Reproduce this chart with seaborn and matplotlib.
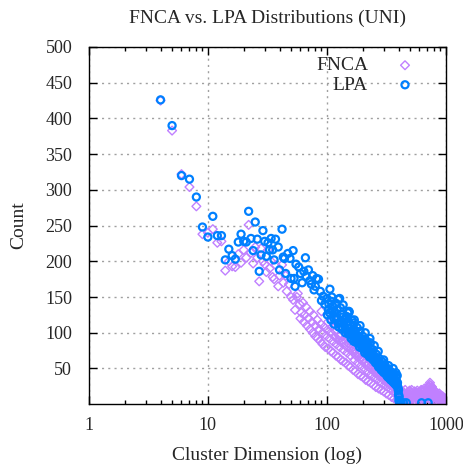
import seaborn as sns
import numpy as np
import pandas as pd
import matplotlib.pyplot as plt
from matplotlib.ticker import FixedLocator, LogLocator, NullFormatter

# FNCA values (cluster dimension, count)
fnca_x = [4, 5, 6, 7, 8, 9, 10, 11, 12, 13, 14, 15, 16, 17, 18, 19, 20, 21, 22, 23,
          24, 25, 26, 27, 28, 29, 30, 31, 32, 33, 34, 35, 36, 37, 39, 40, 42, 43, 45, 46,
          48, 50, 52, 54, 56, 57, 59, 61, 63, 65, 67, 70, 72, 75, 77, 80, 83, 86, 89, 92,
          95, 98, 101, 105, 108, 112, 116, 120, 124, 128, 133, 138, 143, 148, 153, 158, 164, 170, 176, 182,
          188, 194, 200, 207, 214, 221, 228, 236, 244, 252, 260, 268, 277, 286, 295, 305, 315, 325, 335, 346,
          357, 368, 380, 392, 404, 416, 428, 440, 452, 465, 478, 492, 505, 520, 535, 550, 565, 580, 600, 620,
          640, 660, 680, 700, 720, 730, 740, 760, 780, 800, 830, 860, 890, 920, 950, 980, 1000,
          102, 110, 118, 126, 135, 145, 155, 165, 175, 185, 195, 205, 215, 225, 240, 255, 270, 285, 300, 320,
          340, 360, 380, 400, 420, 130, 150, 172, 192, 212, 232, 262, 292, 330, 372, 410, 445, 500, 560, 640,
          710, 760, 850, 940,
          60, 64, 68, 72, 76, 80, 84, 88, 92, 97, 103, 108, 113, 119, 125, 131, 137, 144, 151, 158,
          166, 174, 183, 192, 202, 212, 223, 234, 246, 258, 272, 286, 300, 316, 332, 350, 368, 386, 405, 420,
          90, 100, 110, 120, 140, 160, 180, 210, 250, 290, 330, 370,
          430, 460, 490, 510, 540, 570, 610, 650, 690, 730, 750, 770, 790, 820, 870, 900, 930, 960, 990, 450,
          530, 700, 840, 970, 620, 660, 700,
          415, 425, 435, 445, 455, 470, 480, 485, 495, 500, 515, 525, 545, 555, 575, 585, 595, 605, 615, 630,
          645, 655, 670, 675, 685, 695, 710, 715, 725, 735, 745, 755, 765, 775, 785, 795, 810, 825, 835, 850,
          865, 880, 895, 910, 925, 940, 955, 965, 975, 985, 995, 1000]
fnca_y = [425, 383, 322, 304, 277, 238, 240, 245, 226, 228, 187, 200, 193, 192, 210, 198, 216, 205, 251, 212,
          197, 220, 205, 172, 218, 200, 196, 185, 216, 190, 200, 178, 175, 195, 165, 180, 195, 170, 180, 158,
          168, 150, 146, 132, 150, 155, 140, 128, 142, 125, 136, 120, 130, 115, 125, 110, 118, 105, 112, 100,
          108, 96, 104, 92, 100, 88, 95, 84, 90, 80, 86, 76, 82, 72, 78, 68, 74, 62, 68, 58,
          64, 54, 60, 50, 55, 46, 51, 42, 47, 38, 43, 35, 39, 31, 35, 27, 31, 24, 28, 20,
          24, 16, 20, 12, 15, 8, 12, 6, 10, 4, 8, 12, 6, 10, 14, 5, 9, 13, 6, 10,
          14, 8, 12, 16, 20, 27, 20, 12, 8, 10, 5, 8, 4, 6, 3, 2, 4,
          115, 108, 102, 96, 90, 88, 84, 80, 75, 70, 66, 62, 60, 56, 52, 48, 44, 40, 38, 34,
          30, 27, 24, 22, 18, 96, 92, 70, 70, 58, 60, 48, 44, 36, 26, 20, 14, 18, 16, 18,
          14, 24, 10, 8,
          120, 115, 110, 105, 100, 95, 92, 88, 84, 80, 78, 74, 72, 68, 66, 62, 60, 58, 54, 52,
          48, 46, 42, 40, 38, 34, 32, 30, 27, 24, 22, 20, 18, 15, 13, 10, 8, 6, 4, 3,
          130, 125, 118, 110, 100, 90, 82, 72, 60, 50, 42, 34,
          16, 14, 2, 16, 3, 16, 2, 18, 3, 8, 22, 18, 15, 13, 12, 10, 9, 7, 5, 2,
          2, 2, 2, 2, 20, 22, 22,
          14, 5, 18, 9, 20, 11, 17, 4, 19, 9, 20, 12, 18, 8, 19, 11, 17, 9, 4, 19,
          12, 5, 20, 14, 8, 19, 12, 24, 17, 30, 26, 16, 24, 10, 20, 6, 18, 9, 16, 14,
          6, 15, 7, 12, 5, 11, 4, 9, 6, 8, 3, 6]

# LPA values
lpa_x = [4, 5, 6, 7, 8, 9, 10, 11, 12, 13, 14, 15, 16, 17, 18, 19, 20, 21, 22, 23,
         24, 25, 26, 27, 28, 29, 30, 31, 32, 33, 34, 35, 36, 37, 39, 40, 42, 43, 44, 45,
         47, 49, 50, 52, 53, 54, 55, 58, 60, 62, 64, 66, 67, 70, 72, 74, 76, 78, 80, 82,
         85, 88, 90, 93, 96, 100, 103, 106, 109, 112, 116, 120, 124, 128, 132, 137, 141, 146, 150, 154,
         158, 162, 166, 170, 175, 180, 185, 190, 195, 200, 205, 210, 215, 220, 225, 232, 238, 245, 252, 260,
         268, 275, 282, 290, 298, 306, 315, 324, 333, 342, 352, 361, 370, 380, 390, 398, 405, 410, 440, 465,
         625, 710,
         101, 104, 108, 111, 115, 118, 122, 126, 130, 134, 139, 143, 148, 152, 156, 160, 164, 168, 173, 178,
         183, 188, 193, 198, 203, 208, 213, 218, 223, 228, 235, 242, 249, 256, 264, 272, 279, 286, 294, 302,
         310, 319, 328, 337, 347, 356, 366, 375, 385, 395, 400, 403,
         125, 153, 135, 171, 192, 212, 234, 258, 284, 312, 345, 378,
         105, 115, 125, 135, 145, 155, 165, 175, 185, 195, 205, 215, 225, 235, 245, 255, 265, 275, 285, 295,
         305, 315, 325, 335, 345, 355, 365, 375, 385, 392, 400, 402, 406,
         110, 130, 150, 170, 190, 210, 230, 250, 270, 300, 330, 360, 390, 380, 420]
lpa_y = [426, 390, 320, 315, 290, 248, 234, 263, 236, 236, 202, 217, 208, 203, 227, 238, 228, 227, 270, 232,
         215, 255, 231, 186, 209, 243, 228, 207, 226, 216, 232, 216, 202, 231, 220, 188, 245, 206, 204, 183,
         211, 204, 176, 215, 176, 165, 196, 192, 183, 170, 186, 205, 179, 188, 173, 168, 180, 160, 165, 176,
         175, 158, 145, 151, 140, 148, 132, 161, 144, 137, 128, 141, 120, 148, 126, 139, 118, 123, 110, 129,
         112, 118, 104, 114, 98, 107, 95, 102, 88, 95, 84, 91, 78, 86, 74, 86, 70, 76, 64, 70,
         58, 64, 54, 60, 48, 55, 45, 50, 40, 46, 36, 43, 32, 38, 28, 20, 10, 2, 2, 2,
         2, 2,
         125, 140, 118, 130, 112, 122, 132, 108, 115, 105, 112, 100, 115, 98, 106, 92, 100, 88, 96, 86,
         90, 80, 85, 78, 82, 72, 80, 70, 76, 66, 72, 64, 68, 58, 62, 52, 57, 48, 52, 44,
         48, 40, 44, 36, 40, 32, 36, 28, 32, 24, 14, 6,
         147, 130, 122, 102, 92, 84, 78, 66, 56, 46, 34, 30,
         128, 120, 113, 108, 104, 100, 95, 90, 86, 82, 78, 74, 70, 66, 62, 64, 56, 52, 54, 46,
         50, 42, 38, 44, 34, 38, 30, 34, 26, 30, 20, 12, 4,
         150, 135, 128, 118, 110, 100, 92, 82, 74, 62, 54, 50, 40, 44, 2]

fnca = pd.DataFrame({'dim': fnca_x, 'count': fnca_y})
lpa = pd.DataFrame({'dim': lpa_x, 'count': lpa_y})

sns.set_style('ticks')
plt.rcParams['font.family'] = ['Liberation Serif', 'DejaVu Serif']

fig = plt.figure(figsize=(4.63, 4.70), dpi=100)
ax = fig.add_axes([0.192, 0.140, 0.771, 0.760])

sns.scatterplot(data=fnca, x='dim', y='count', ax=ax, marker='D', s=20,
                facecolor='none', edgecolor='#c080ff', linewidth=1.0, label='FNCA')
sns.scatterplot(data=lpa, x='dim', y='count', ax=ax, marker='o', s=26,
                facecolor='none', edgecolor='#0080ff', linewidth=1.6, label='LPA')

ax.set_xscale('log')
ax.set_xlim(1, 1000)
ax.set_ylim(0, 500)
ax.xaxis.set_major_locator(FixedLocator([1, 10, 100, 1000]))
ax.set_xticklabels(['1', '10', '100', '1000'])
ax.xaxis.set_minor_locator(LogLocator(base=10, subs=np.arange(2, 10)))
ax.xaxis.set_minor_formatter(NullFormatter())
ax.yaxis.set_major_locator(FixedLocator(list(range(50, 501, 50))))

ax.tick_params(which='both', direction='in', top=True, right=True, labelsize=13,
               color='black')
ax.tick_params(which='major', length=6, width=1)
ax.tick_params(which='minor', length=3, width=1)
ax.tick_params(axis='x', pad=9)
ax.tick_params(axis='y', pad=12)
for s in ax.spines.values():
    s.set_color('black')
    s.set_linewidth(1)

ax.grid(True, which='major', linestyle=(0, (1.5, 3)), color='#a0a0a0', linewidth=1)
ax.set_axisbelow(True)

ax.set_xlabel('Cluster Dimension (log)', fontsize=14, labelpad=9)
ax.set_ylabel('Count', fontsize=14, labelpad=13)
ax.set_title('FNCA vs. LPA Distributions (UNI)', fontsize=14, pad=17)

ax.legend(loc='upper right', bbox_to_anchor=(0.94, 1.0), frameon=False,
          markerfirst=False, fontsize=14, handletextpad=1.4, labelspacing=0.1,
          borderaxespad=0.3, borderpad=0.2, handlelength=1.0)

fig.savefig('out.png', dpi=100)
